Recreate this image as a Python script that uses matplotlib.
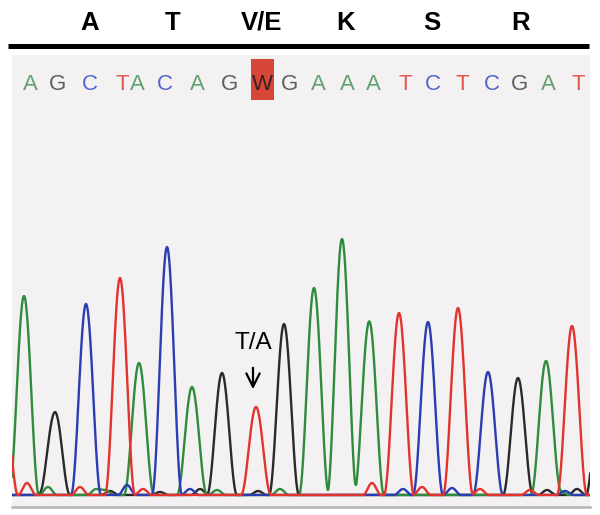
import numpy as np
import matplotlib.pyplot as plt
from matplotlib.patches import Rectangle

# Data
amino_acids = ['A', 'T', 'V/E', 'K', 'S', 'R']
aa_pos = [90, 173, 262, 346, 432, 521]

bases = list('AGCTACAGWGAAATCTCGAT')
base_pos = [30, 57, 90, 122, 137, 165, 197, 230, 262, 289,
            318, 347, 373, 405, 433, 462, 492, 520, 548, 578]

# main peaks: channel, position (scan), signal height
peak_channel = ['G', 'K', 'B', 'R', 'G', 'B', 'G', 'K', 'R', 'K',
                'G', 'G', 'G', 'R', 'B', 'R', 'B', 'K', 'G', 'R',
                'R', 'K']
peak_pos = [24, 55, 86, 120, 139, 167, 192, 222, 256, 284,
            314, 342, 369, 399, 428, 458, 488, 518, 546, 572,
            3, 601]
peak_height = [199, 83, 191, 217, 132, 248, 108, 122, 88, 171,
               207, 256, 172, 182, 173, 187, 123, 117, 134, 169,
               110, 120]

# small background bumps: channel, position, height
bump_channel = ['R', 'G', 'K', 'R', 'G', 'B', 'R', 'K', 'B', 'K', 'G', 'G',
                'K', 'R', 'G', 'R', 'B', 'R', 'B', 'R', 'K', 'G', 'K', 'B', 'K', 'G']
bump_pos = [27, 48, 45, 80, 96, 127, 143, 110, 190, 200, 217, 280,
            258, 372, 375, 422, 403, 480, 452, 530, 547, 560, 577, 565, 160, 105]
bump_height = [12, 8, 5, 8, 6, 10, 6, 4, 6, 6, 5, 6,
               4, 12, 6, 8, 6, 6, 7, 5, 5, 4, 6, 4, 3, 5]

trace_colors = {'G': '#2f8c3c', 'K': '#2a2a2a', 'B': '#2b3db3', 'R': '#e2342c'}
base_colors = {'A': '#62a070', 'G': '#5e5e5e', 'C': '#5566c8', 'T': '#e2564e', 'W': '#3a2020'}

fig = plt.figure(figsize=(6, 5.15), dpi=100)
fig.patch.set_facecolor('white')

# overlay axes in pixel units for labels and frame
ax0 = fig.add_axes([0, 0, 1, 1])
ax0.set_xlim(0, 600)
ax0.set_ylim(515, 0)
ax0.axis('off')

ax0.add_patch(Rectangle((12, 55), 578, 452, facecolor='#f4f1f2', edgecolor='none', zorder=0))
ax0.plot([8, 589], [46, 46], color='black', lw=3.6, solid_capstyle='butt')
ax0.plot([12, 590], [507, 507], color='#b5b5b5', lw=1.8)

for lab, x in zip(amino_acids, aa_pos):
    ax0.text(x, 23, lab, ha='center', va='center', fontsize=18.5,
             fontweight='bold', family='Liberation Sans')

for b, x in zip(bases, base_pos):
    if b == 'W':
        ax0.add_patch(Rectangle((251, 59), 23, 41, facecolor='#d6473a', edgecolor='none', zorder=1))
    ax0.text(x, 84, b, ha='center', va='center', fontsize=16,
             color=base_colors[b], family='Liberation Sans', zorder=2)

ax0.text(253, 343, 'T/A', ha='center', va='center', fontsize=17.5, family='Liberation Sans')
ax0.annotate('', xy=(253, 392), xytext=(253, 365),
             arrowprops=dict(arrowstyle='->', lw=1.6, color='black', mutation_scale=24))

# chromatogram axes
ax = fig.add_axes([12 / 600, (515 - 506) / 515, 578 / 600, 406 / 515])
ax.set_xlim(12, 590)
ax.set_ylim(-11, 395)
ax.axis('off')
ax.patch.set_alpha(0)


def peak(x, p, h, w):
    d = np.clip((x - p) / w, -1, 1)
    return h * np.cos(np.pi * d / 2) ** 2


x = np.linspace(0, 610, 2400)
traces = {c: np.zeros_like(x) for c in trace_colors}
for c, p, h in zip(peak_channel, peak_pos, peak_height):
    traces[c] += peak(x, p, h, 15)
for c, p, h in zip(bump_channel, bump_pos, bump_height):
    traces[c] += peak(x, p, h, 9)

for c in ['K', 'G', 'B', 'R']:
    ax.plot(x, traces[c], color=trace_colors[c], lw=1.7, clip_on=True)

fig.savefig('out.png', dpi=100)
